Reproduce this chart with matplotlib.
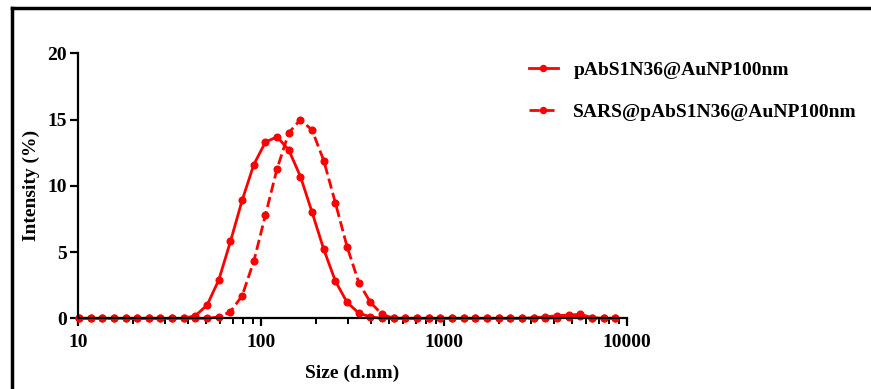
import matplotlib
matplotlib.use("Agg")
import matplotlib.pyplot as plt
from matplotlib.lines import Line2D
from matplotlib.ticker import LogLocator, FixedLocator, NullFormatter

plt.rcParams["font.family"] = ["Liberation Serif", "DejaVu Serif"]
plt.rcParams["font.weight"] = "bold"

# Zetasizer size bins (d.nm) shown in the plot
sizes = [10.1, 11.7, 13.54, 15.69, 18.17, 21.04, 24.36, 28.21, 32.67, 37.84,
         43.82, 50.75, 58.77, 68.06, 78.82, 91.28, 105.7, 122.4, 141.8, 164.2,
         190.1, 220.2, 255.0, 295.3, 342.0, 396.1, 458.7, 531.2, 615.1, 712.4,
         825.0, 955.4, 1106, 1281, 1484, 1718, 1990, 2305, 2669, 3091,
         3580, 4145, 4801, 5560, 6439, 7456, 8635]

# intensity (%) for pAbS1N36@AuNP100nm
intensity_pab = [0, 0, 0, 0, 0, 0, 0, 0, 0, 0,
                 0.2, 1.0, 2.9, 5.8, 8.9, 11.6, 13.3, 13.7, 12.7, 10.7,
                 8.0, 5.2, 2.8, 1.2, 0.4, 0.1, 0, 0, 0, 0,
                 0, 0, 0, 0, 0, 0, 0, 0, 0, 0.05,
                 0.1, 0.2, 0.25, 0.3, 0.05, 0, 0]

# intensity (%) for SARS@pAbS1N36@AuNP100nm
intensity_sars = [0, 0, 0, 0, 0, 0, 0, 0, 0, 0,
                  0, 0, 0.1, 0.5, 1.7, 4.3, 7.8, 11.3, 14.0, 15.0,
                  14.2, 11.9, 8.7, 5.4, 2.7, 1.2, 0.3, 0, 0, 0,
                  0, 0, 0, 0, 0, 0, 0, 0, 0, 0,
                  0, 0.05, 0.1, 0.15, 0, 0, 0]

labels = ["pAbS1N36@AuNP100nm", "SARS@pAbS1N36@AuNP100nm"]
y_ticks = [0, 5, 10, 15, 20]
x_ticks = [10, 100, 1000, 10000]

red = "#ff0000"

fig = plt.figure(figsize=(8.71, 3.89), dpi=100)
ax = fig.add_axes([0.0896, 0.1817, 0.6303, 0.6813])

ax.plot(sizes, intensity_pab, "-o", color=red, lw=2, ms=4.8, label=labels[0])
ax.plot(sizes, intensity_sars, "--o", color=red, lw=2, ms=4.8, label=labels[1])

ax.set_xscale("log")
ax.set_xlim(10, 10000)
ax.set_ylim(0, 20)
ax.xaxis.set_major_locator(FixedLocator(x_ticks))
ax.set_xticklabels([str(t) for t in x_ticks])
ax.xaxis.set_minor_locator(LogLocator(base=10, subs=range(2, 10)))
ax.xaxis.set_minor_formatter(NullFormatter())
ax.set_yticks(y_ticks)

for s in ["top", "right"]:
    ax.spines[s].set_visible(False)
for s in ["left", "bottom"]:
    ax.spines[s].set_linewidth(1.6)
ax.tick_params(which="major", direction="out", length=6, width=1.6,
               labelsize=14, pad=2)
ax.tick_params(which="minor", direction="out", length=4, width=1.4)
for lab in ax.get_xticklabels() + ax.get_yticklabels():
    lab.set_fontweight("bold")
ax.xaxis.set_tick_params(pad=5)

ax.set_xlabel("Size (d.nm)", fontsize=14, fontweight="bold", labelpad=10)
ax.set_ylabel("Intensity (%)", fontsize=14, fontweight="bold", labelpad=5)
for ln in ax.lines:
    ln.set_clip_on(False)

ax.legend(loc="upper left", bbox_to_anchor=(0.5867, 0.888),
          bbox_transform=fig.transFigure, frameon=False,
          prop={"size": 14, "weight": "bold"}, handlelength=1.5,
          handletextpad=0.8, labelspacing=1.26, markerscale=0.9)

# partial outer frame (top and left edges)
fig.add_artist(Line2D([0.0138, 1.0], [0.979, 0.979], color="black", lw=2.5,
                      transform=fig.transFigure))
fig.add_artist(Line2D([0.0138, 0.0138], [0.0, 0.979], color="black", lw=2.5,
                      transform=fig.transFigure))

fig.savefig("out.png", dpi=100)
